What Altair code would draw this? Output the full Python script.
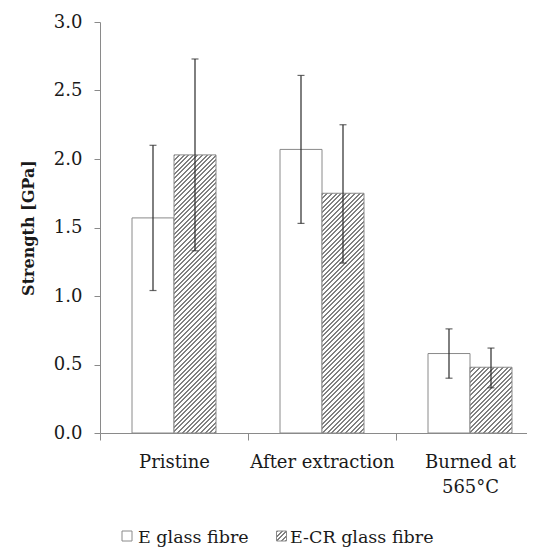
import altair as alt
import pandas as pd

categories = ["Pristine", "After extraction", "Burned at\n565°C"]
series = ["E glass fibre", "E-CR glass fibre"]
e_mean = [1.57, 2.07, 0.58]
e_low = [1.04, 1.53, 0.40]
e_high = [2.10, 2.61, 0.76]
ecr_mean = [2.03, 1.75, 0.48]
ecr_low = [1.33, 1.24, 0.33]
ecr_high = [2.73, 2.25, 0.62]
y_ticks = [0.0, 0.5, 1.0, 1.5, 2.0, 2.5, 3.0]
y_title = "Strength [GPa]"

W, H = 427, 411
XRANGE = 444
YMAX = 3.0
PX = H / YMAX
BAR_W = 42.0
FONT = "DejaVu Serif"
FS = 17.5
FS_AX = 18
EDGE = "#8a8a8a"
HATCH = "#808080"
INK = "#1a1a1a"

rows = []
for i, c in enumerate(categories):
    rows.append({"category": c, "series": series[0], "mean": e_mean[i], "low": e_low[i], "high": e_high[i]})
    rows.append({"category": c, "series": series[1], "mean": ecr_mean[i], "low": ecr_low[i], "high": ecr_high[i]})
df = pd.DataFrame(rows)


def hatch(w, h, period=4.6, dark=0.45):
    r = h / w
    a = (w + h) / (w * (1 + r * r))
    pt = period / (w + h)
    stops = []
    k = 0
    while k * pt < 1:
        s = k * pt
        m = min(s + dark * pt, 1.0)
        e = min(s + pt, 1.0)
        stops += [
            {"offset": round(s, 6), "color": HATCH},
            {"offset": round(m, 6), "color": HATCH},
            {"offset": round(m, 6), "color": "#ffffff"},
            {"offset": round(e, 6), "color": "#ffffff"},
        ]
        k += 1
    return {"gradient": "linear", "x1": 0, "y1": 0, "x2": a, "y2": a * r, "stops": stops}


off_pad = (XRANGE / 3 / BAR_W - 2) / 2

x_enc = alt.X(
    "category:N",
    sort=categories,
    scale=alt.Scale(domain=categories, paddingInner=0, paddingOuter=0, range=[0, XRANGE]),
    axis=alt.Axis(
        title=None,
        labelAngle=0,
        labelFont=FONT,
        labelFontSize=FS_AX,
        labelColor=INK,
        labelPadding=13,
        labelLineHeight=25,
        labelExpr="split(datum.label, '\\n')",
        tickBand="extent",
        tickSize=7,
        tickColor=EDGE,
        domainColor=EDGE,
        labelLimit=0,
    ),
)
xo_enc = alt.XOffset("series:N", scale=alt.Scale(domain=series, paddingInner=0, paddingOuter=off_pad))
y_enc = alt.Y(
    "mean:Q",
    scale=alt.Scale(domain=[0, YMAX], nice=False, zero=True),
    axis=alt.Axis(
        values=y_ticks,
        format=".1f",
        grid=False,
        labelFont=FONT,
        labelFontSize=FS_AX,
        labelColor=INK,
        labelPadding=12,
        tickSize=6,
        tickColor=EDGE,
        domainColor=EDGE,
        title=y_title,
        titleFont=FONT,
        titleFontSize=16,
        titleFontWeight="bold",
        titleColor=INK,
        titleX=-67,
        titleY=H / 2,
        titleAngle=270,
        titleAlign="center",
        titleBaseline="alphabetic",
    ),
)

e_bars = alt.Chart(df[df["series"] == series[0]]).mark_bar(
    fill="white", stroke=EDGE, strokeWidth=1
).encode(x=x_enc, xOffset=xo_enc, y=y_enc)

layers = [e_bars]
for i, c in enumerate(categories):
    sub = df[(df["series"] == series[1]) & (df["category"] == c)]
    layers.append(
        alt.Chart(sub).mark_bar(stroke=EDGE, strokeWidth=1).encode(
            x=x_enc, xOffset=xo_enc, y=y_enc,
            fill=alt.value(hatch(BAR_W, ecr_mean[i] * PX)),
        )
    )

base = alt.Chart(df)
err = base.mark_rule(color="#2a2a2a", strokeWidth=1.2).encode(
    x=x_enc, xOffset=xo_enc, y=alt.Y("low:Q"), y2="high:Q"
)
cap_lo = base.mark_tick(color="#2a2a2a", thickness=1.2, size=7).encode(
    x=x_enc, xOffset=xo_enc, y=alt.Y("low:Q")
)
cap_hi = base.mark_tick(color="#2a2a2a", thickness=1.2, size=7).encode(
    x=x_enc, xOffset=xo_enc, y=alt.Y("high:Q")
)
layers += [err, cap_lo, cap_hi]

# custom legend
leg_df = pd.DataFrame({"label": series})
LEG_Y_SYM = 514
LEG_Y_TXT = 521
sym_x = [27, 181.5]
txt_x = [38, 190]
for j, s in enumerate(series):
    fill = "white" if j == 0 else hatch(10, 10, period=4.6, dark=0.45)
    layers.append(
        alt.Chart(leg_df[leg_df["label"] == s]).mark_square(
            size=100, stroke=EDGE, strokeWidth=1, opacity=1
        ).encode(x=alt.value(sym_x[j]), y=alt.value(LEG_Y_SYM), fill=alt.value(fill))
    )
    layers.append(
        alt.Chart(leg_df[leg_df["label"] == s]).mark_text(
            font=FONT, fontSize=FS, align="left", baseline="alphabetic", color=INK
        ).encode(x=alt.value(txt_x[j]), y=alt.value(LEG_Y_TXT), text="label:N")
    )

chart = alt.layer(*layers).properties(
    width=W,
    height=H,
    autosize=alt.AutoSizeParams(type="none"),
    padding={"left": 92, "top": 14, "right": 0, "bottom": 114},
).configure_view(stroke=None)

chart.save("out.html", embed_options={"renderer": "svg", "actions": False})
